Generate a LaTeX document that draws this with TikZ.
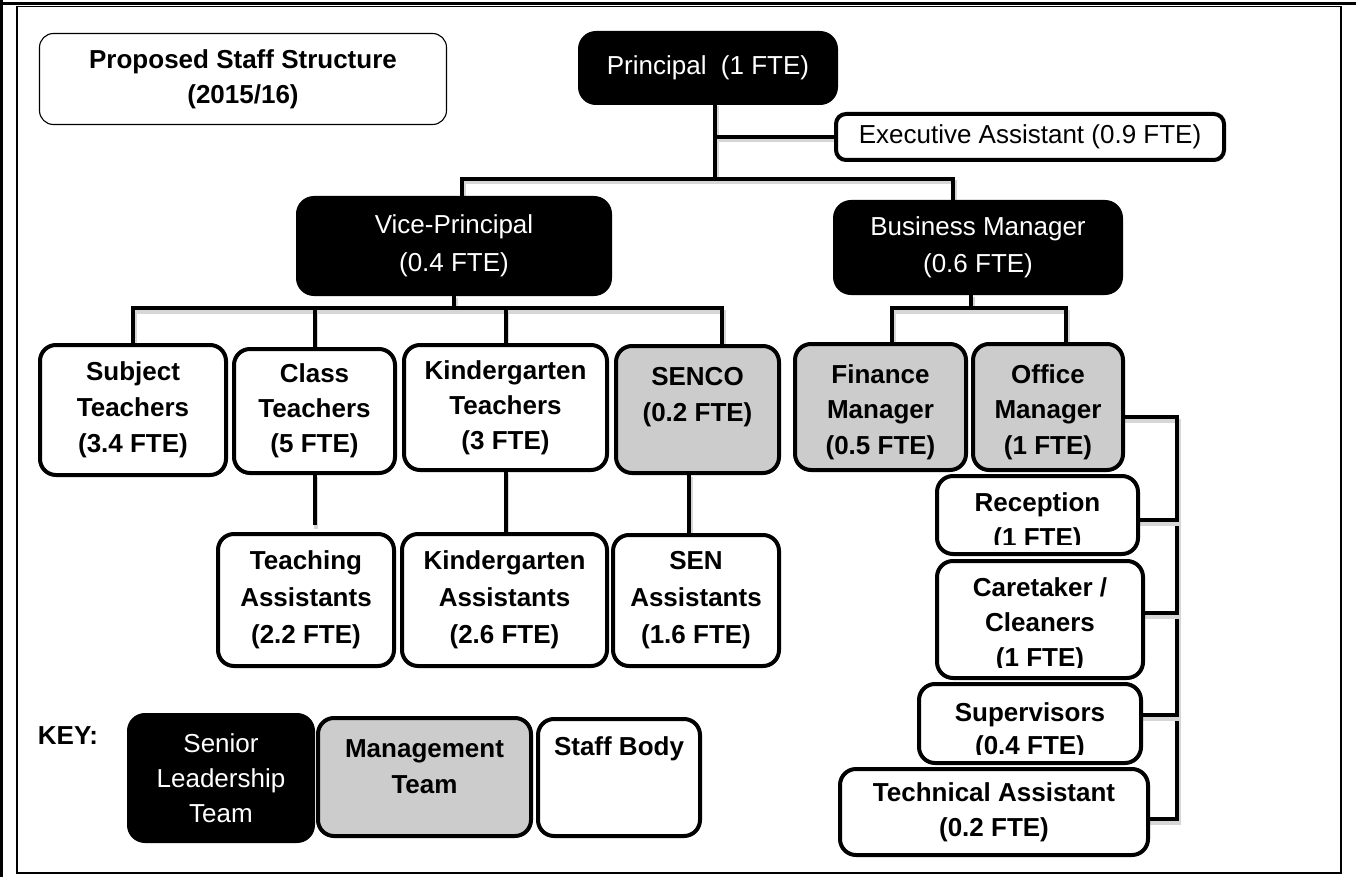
\documentclass[tikz,border=0pt]{standalone}
\usepackage{fontspec}
\setmainfont{Liberation Sans}
\usetikzlibrary{backgrounds}
\definecolor{mgray}{HTML}{CCCCCC}
\definecolor{shade}{HTML}{D6D6D6}
\newcommand\fsz[1][36]{\fontsize{26}{#1}\selectfont}
\begin{document}
\begin{tikzpicture}[x=1pt,y=-1pt,
  cell/.style={draw=black, line width=4pt, rounded corners=16pt, fill=white,
    align=center, inner sep=0pt, outer sep=0pt, font=\bfseries\fsz},
  slt/.style={cell, fill=black, text=white, font=\fsz},
  mgt/.style={cell, fill=mgray},
  txt/.style={align=center, inner sep=0pt, outer sep=0pt, font=\bfseries\fsz},
  conn/.style={line width=4pt,
    preaction={draw=shade, line width=4pt, transform canvas={shift={(1.5pt,-3.5pt)}}}},
]
\useasboundingbox (0,0) rectangle (1359,877);

% page frame
\draw[line width=2.7pt] (0,3.2) -- (1356,3.2);
\draw[line width=2.7pt] (1.35,0) -- (1.35,877);
\draw[line width=1.4pt] (17,6.5) rectangle (1341,873);

% title
\node[cell, line width=1.1pt, rounded corners=14pt, minimum width=407pt, minimum height=91pt,
  font={\bfseries\fsz[35]}] (title) at (243,79) {Proposed Staff Structure\\(2015/16)};

% senior leadership
\node[slt, minimum width=256pt, minimum height=70pt] (pr) at (708,68) {Principal~ (1 FTE)};
\node[cell, font=\fsz, rounded corners=10pt, minimum width=388pt, minimum height=46pt] (ea) at (1030,137) {Executive Assistant (0.9 FTE)};
\node[slt, font={\fsz[38]}, minimum width=312pt, minimum height=96pt] (vp) at (454,246) {Vice-Principal\\(0.4 FTE)};
\node[slt, font={\fsz[37]}, minimum width=286pt, minimum height=91pt] (bm) at (978,247.5) {Business Manager\\(0.6 FTE)};

% teaching side
\node[cell, minimum width=186pt, minimum height=130pt] (st) at (133,410) {Subject\\Teachers\\(3.4 FTE)};
\node[cell, font={\bfseries\fsz[35]}, minimum width=161pt, minimum height=124pt] (ct) at (314.5,411) {Class\\Teachers\\(5 FTE)};
\node[cell, font={\bfseries\fsz[35]}, minimum width=203pt, minimum height=125pt] (kt) at (505.5,407.5) {Kindergarten\\Teachers\\(3 FTE)};
\node[mgt, minimum width=163pt, minimum height=127pt] (se) at (697.5,409.5) {};
\node[txt] (se-t) at (697.5,397.5) {SENCO\\(0.2 FTE)};
\node[cell, font={\bfseries\fsz[37]}, minimum width=176pt, minimum height=132pt] (ta) at (306,600) {Teaching\\Assistants\\(2.2 FTE)};
\node[cell, font={\bfseries\fsz[37]}, minimum width=205pt, minimum height=132pt] (ka) at (504.5,600) {Kindergarten\\Assistants\\(2.6 FTE)};
\node[cell, font={\bfseries\fsz[37]}, minimum width=166pt, minimum height=131pt] (sa) at (696,600.5) {SEN\\Assistants\\(1.6 FTE)};

% business side
\node[mgt, minimum width=171pt, minimum height=126pt] (fm) at (880.5,407) {};
\node[txt, font={\bfseries\fsz[35.5]}] (fm-t) at (880.5,412) {Finance\\Manager\\(0.5 FTE)};
\node[mgt, minimum width=150pt, minimum height=126pt] (om) at (1048,407) {};
\node[txt, font={\bfseries\fsz[35.5]}] (om-t) at (1048,412) {Office\\Manager\\(1 FTE)};

% office staff: the last line of text runs under the lower edge
\node[cell, minimum width=201pt, minimum height=78pt] (re) at (1037.5,515) {};
\begin{scope}
  \clip (re.north west) rectangle ([yshift=10pt]re.south east);
  \node[txt, font={\bfseries\fsz[35]}] (re-t) at (1037.5,522) {Reception\\(1 FTE)};
\end{scope}
\node[cell, minimum width=206pt, minimum height=117pt] (ca) at (1040,619.5) {};
\begin{scope}
  \clip (ca.north west) rectangle ([yshift=11pt]ca.south east);
  \node[txt, font={\bfseries\fsz[35]}] (ca-t) at (1040,624.5) {Caretaker /\\Cleaners\\(1 FTE)};
\end{scope}
\node[cell, minimum width=222pt, minimum height=79pt] (su) at (1030,723.5) {};
\begin{scope}
  \clip (su.north west) rectangle ([yshift=9pt]su.south east);
  \node[txt, font={\bfseries\fsz[33]}] (su-t) at (1030,731) {Supervisors\\(0.4 FTE)};
\end{scope}
\node[cell, font={\bfseries\fsz[35]}, minimum width=308pt, minimum height=86pt] (te) at (994,812) {Technical Assistant\\(0.2 FTE)};

% key
\node[txt] (key) at (68,736) {KEY:};
\node[slt, font={\fsz[35]}, minimum width=184pt, minimum height=126pt] (sl) at (221,778) {Senior\\Leadership\\Team};
\node[mgt, minimum width=213pt, minimum height=118pt] (mt) at (424.5,777) {};
\node[txt] (mt-t) at (424.5,766.5) {Management\\Team};
\node[cell, minimum width=162pt, minimum height=117pt] (sb) at (619,777.5) {};
\node[txt] (sb-t) at (619,748.5) {Staff Body};

% junction points of the connector bars
\coordinate (tj) at (715,179);
\coordinate (vj) at (454,308);
\coordinate (bj) at (971,308);
\coordinate (sp1) at (1177,417);
\coordinate (sp2) at (1177,819);

% connectors, kept behind the boxes
\begin{pgfonlayer}{background}
\draw[conn] ([xshift=7pt]pr.south) -- (tj);
\draw[conn] (ea.west) -| (tj);
\draw[conn] ([xshift=8pt]vp.north) |- (tj) -| ([xshift=-25pt]bm.north);
\draw[conn] (vp.south) -- (vj);
\draw[conn] (st.north) |- (vj) -| ([xshift=24.5pt]se.north);
\draw[conn] (ct.north) -- (ct.north |- vj);
\draw[conn] (kt.north) -- (kt.north |- vj);
\draw[conn, shorten >=9pt] (ct.south) -- (ct.south |- ta.north);
\draw[conn] (kt.south) -- (kt.south |- ka.north);
\draw[conn] ([xshift=-8.5pt]se.south) -- ([xshift=-8.5pt]se.south |- sa.north);
\draw[conn] ([xshift=-7pt]bm.south) -- (bj);
\draw[conn] ([xshift=11.5pt]fm.north) |- (bj) -| ([xshift=18pt]om.north);
\draw[conn] ([yshift=-10pt]om.east) -- (sp1) -- (sp2) -- (sp2 -| te.east);
\draw[conn] ([yshift=-5pt]re.east) -- ([yshift=-5pt]re.east -| sp1);
\draw[conn] ([yshift=6.5pt]ca.east) -- ([yshift=6.5pt]ca.east -| sp1);
\draw[conn] ([yshift=8.5pt]su.east) -- ([yshift=8.5pt]su.east -| sp1);
\end{pgfonlayer}
\end{tikzpicture}
\end{document}
